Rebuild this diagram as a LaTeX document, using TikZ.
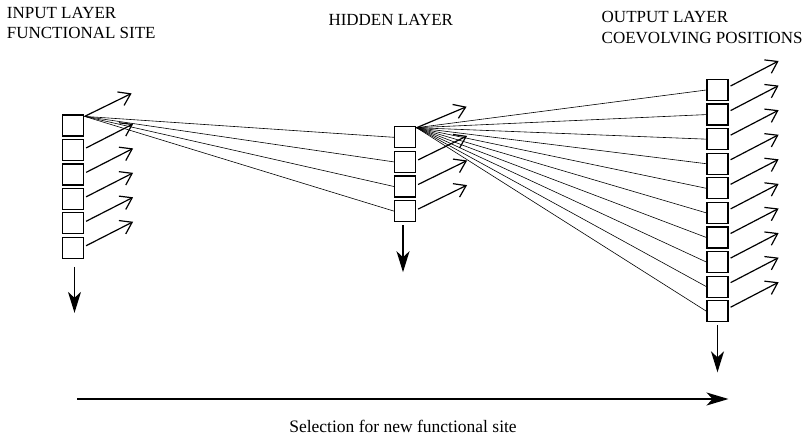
\documentclass[tikz,border=0pt]{standalone}
\usepackage{fontspec}
\setmainfont{Liberation Serif}
\usetikzlibrary{arrows.meta,calc}
\begin{document}
\begin{tikzpicture}[x=1pt,y=-1pt,
  cell/.style={draw,line width=1.2pt,minimum width=21pt,minimum height=21pt,inner sep=0pt},
  link/.style={line width=0.6pt},
  outarr/.style={line width=1.2pt,-{Straight Barb[length=11pt,width=15pt,line width=1.2pt]}},
  downarr/.style={line width=1.3pt,-{Stealth[length=21pt,width=13pt,inset=6pt]}},
  lab/.style={font=\fontsize{17}{20}\selectfont,inner sep=0pt}]
\useasboundingbox (0,0) rectangle (809,439);

% labels
\node[lab,anchor=base west] (l1a) at (6.7,18.3) {INPUT LAYER};
\node[lab,anchor=base west] (l1b) at (6.7,38.5) {FUNCTIONAL SITE};
\node[lab,anchor=base west] (l2) at (328.3,25) {HIDDEN LAYER};
\node[lab,anchor=base west] (l3a) at (601.5,22.7) {OUTPUT LAYER};
\node[lab,anchor=base west] (l3b) at (601.5,43.3) {COEVOLVING POSITIONS};
\node[lab,anchor=base,font=\fontsize{17.5}{20}\selectfont] (l4) at (403,432) {Selection for new functional site};

% input layer
\foreach \i in {1,...,6} \node[cell] (in\i) at (73,{125.5+24.45*(\i-1)}) {};
% hidden layer
\foreach \i in {1,...,4} \node[cell] (hid\i) at (405,{137.3+24.6*(\i-1)}) {};
% output layer
\foreach \i in {1,...,10} \node[cell] (out\i) at (717.5,{90+24.58*(\i-1)}) {};

% links
\foreach \j in {1,...,4} \draw[link] ($(in1.north east)+(0.5,2)$) -- (hid\j.west);
\foreach \k in {1,...,10} \draw[link] ($(hid1.north east)+(0.5,1.5)$) -- (out\k.west);

% outgoing arrows
\draw[outarr] ($(in1.north east)+(0.5,2)$) -- ++(47,-23);
\foreach \i in {2,...,6} \draw[outarr] ($(in\i.east)+(2,-2)$) -- ++(47,-24);
\draw[outarr] ($(hid1.north east)+(0.5,1.5)$) -- ++(50,-21);
\foreach \i in {2,...,4} \draw[outarr] ($(hid\i.east)+(2,-2)$) -- ++(49,-24);
\foreach \i in {1,...,10} \draw[outarr] ($(out\i.east)+(2,-4)$) -- ++(48,-25);

% down arrows
\coordinate (inD) at ($(in6.south)+(1.5,54)$);
\coordinate (hidD) at ($(hid4.south)+(-2,50)$);
\coordinate (outD) at ($(out10.south)+(0,50)$);
\draw[downarr] ($(in6.south)+(1.5,8)$) -- (inD);
\draw[downarr] ($(hid4.south)+(-2,3)$) -- (hidD);
\draw[downarr] ($(out10.south)+(0,3)$) -- (outD);

% selection arrow
\coordinate (selL) at (77,399);
\coordinate (selR) at (728.5,399);
\draw[line width=1.6pt,-{Stealth[length=22pt,width=13pt,inset=6pt]}] (selL) -- (selR);
\end{tikzpicture}
\end{document}
